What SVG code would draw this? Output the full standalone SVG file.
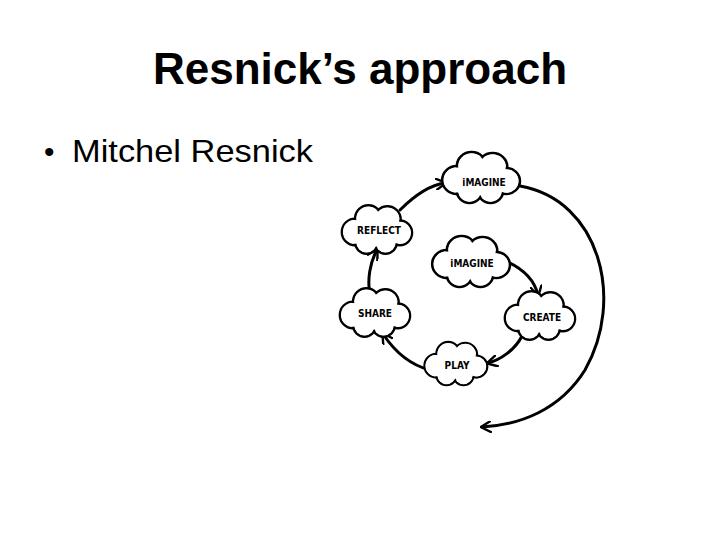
<svg xmlns="http://www.w3.org/2000/svg" width="720" height="540" viewBox="0 0 720 540">
<defs>
<style>
.t{font-family:"Liberation Sans",Arial,sans-serif;fill:#000}
circle.o{fill:#fff;stroke:#000;stroke-width:2.5}
.i{fill:#fff;stroke:none}
.lbl{font-family:"DejaVu Sans Condensed","DejaVu Sans",sans-serif;font-weight:bold;font-size:10px;text-anchor:middle;fill:#000}
.a{fill:none;stroke:#000;stroke-width:3;stroke-linecap:round}
</style>
<marker id="ah" viewBox="0 0 10 10" refX="8" refY="5" markerWidth="4" markerHeight="4" orient="auto"><path d="M0,0 L9,5 L0,10" fill="none" stroke="#000" stroke-width="2"/></marker>
<g id="cloud">
<circle class="o" cx="-22" cy="2" r="14"/><circle class="o" cx="-8" cy="-12" r="14"/><circle class="o" cx="12" cy="-11" r="14"/><circle class="o" cx="25" cy="3" r="13"/><circle class="o" cx="10" cy="13" r="12"/><circle class="o" cx="-10" cy="13" r="12"/>
<circle class="i" cx="-22" cy="2" r="12.5"/><circle class="i" cx="-8" cy="-12" r="12.5"/><circle class="i" cx="12" cy="-11" r="12.5"/><circle class="i" cx="25" cy="3" r="11.5"/><circle class="i" cx="10" cy="13" r="10.5"/><circle class="i" cx="-10" cy="13" r="10.5"/><ellipse class="i" cx="2" cy="1" rx="26" ry="16"/>
</g>
</defs>
<rect width="720" height="540" fill="#fff"/>
<text class="t" x="360" y="84" font-size="44" font-weight="bold" text-anchor="middle">Resnick’s approach</text>
<text class="t" x="44" y="162" font-size="30">•</text>
<text class="t" x="72" y="162" font-size="32" textLength="241" lengthAdjust="spacingAndGlyphs">Mitchel Resnick</text>
<g id="connectors">
<path class="a" d="M520,186 C600,200 625,300 585,370 C560,410 520,425 482,427" marker-end="url(#ah)"/>
<path class="a" d="M400,210 C415,195 430,185 445,183" marker-end="url(#ah)"/>
<path class="a" d="M370,295 C367,280 370,262 377,250" marker-end="url(#ah)"/>
<path class="a" d="M430,370 C410,365 395,352 383,334" marker-end="url(#ah)"/>
<path class="a" d="M522,336 C515,350 500,360 488,363" marker-end="url(#ah)"/>
<path class="a" d="M508,262 C525,270 535,282 538,295" marker-end="url(#ah)"/>
</g>
<g id="n-imagine-top"><use href="#cloud" transform="translate(480,178) scale(1.05,1)"/><text class="lbl" x="484" y="186">iMAGINE</text></g>
<g id="n-reflect"><use href="#cloud" transform="translate(376,230) scale(0.95)"/><text class="lbl" x="379" y="234">REFLECT</text></g>
<g id="n-imagine-inner"><use href="#cloud" transform="translate(470,262) scale(1.05,1)"/><text class="lbl" x="472" y="267">iMAGINE</text></g>
<g id="n-create"><use href="#cloud" transform="translate(539,316) scale(0.95)"/><text class="lbl" x="542" y="321">CREATE</text></g>
<g id="n-share"><use href="#cloud" transform="translate(374,313) scale(0.95)"/><text class="lbl" x="375" y="317">SHARE</text></g>
<g id="n-play"><use href="#cloud" transform="translate(455,364) scale(0.85)"/><text class="lbl" x="457" y="369">PLAY</text></g>
</svg>
